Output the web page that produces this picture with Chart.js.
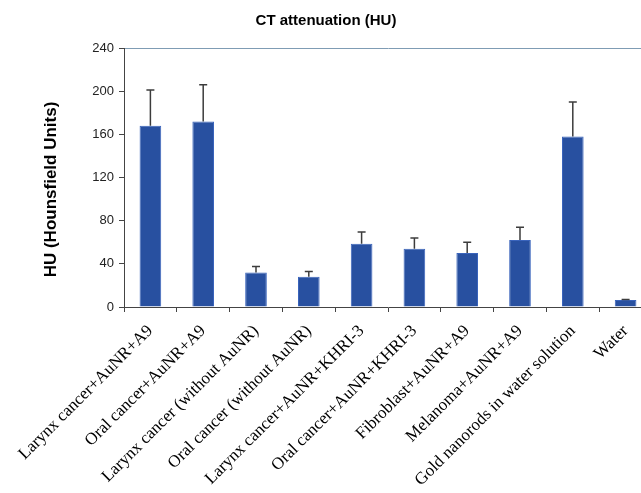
<!DOCTYPE html>
<html lang="en">
<head>
    <meta charset="UTF-8">
    <title>CT attenuation (HU)</title>
    <style>
        body {
            margin: 0;
            padding: 0;
            background: #fff;
            overflow: hidden;
        }
        #wrap {
            position: relative;
            width: 654px;
            height: 493px;
        }
    </style>
</head>
<body>
    <div id="wrap">
        <canvas id="ctChart"></canvas>
    </div>
    <script src="https://cdn.jsdelivr.net/npm/chart.js"></script>
    <script>
        const categories = [
            'Larynx cancer+AuNR+A9',
            'Oral cancer+AuNR+A9',
            'Larynx cancer (without AuNR)',
            'Oral cancer (without AuNR)',
            'Larynx cancer+AuNR+KHRI-3',
            'Oral cancer+AuNR+KHRI-3',
            'Fibroblast+AuNR+A9',
            'Melanoma+AuNR+A9',
            'Gold nanorods in water solution',
            'Water'
        ];
        const huValues = [168, 172, 32, 28, 58.5, 54, 50, 62, 158, 6.5];
        const huErrors = [33, 34, 5.5, 5, 11, 10, 10, 12, 32, 0.5];
        const yTicks = [0, 40, 80, 120, 160, 200, 240];
        const yTitle = 'HU (Hounsfield Units)';

        // draws the upper error bars from the scales
        const errorBars = {
            id: 'errorBars',
            afterDatasetsDraw(chart) {
                const ctx = chart.ctx;
                const meta = chart.getDatasetMeta(0);
                const y = chart.scales.y;
                ctx.save();
                ctx.strokeStyle = '#3c3c3c';
                ctx.lineWidth = 1.5;
                meta.data.forEach((bar, i) => {
                    const top = y.getPixelForValue(huValues[i]);
                    const end = y.getPixelForValue(huValues[i] + huErrors[i]);
                    ctx.beginPath();
                    ctx.moveTo(bar.x, top);
                    ctx.lineTo(bar.x, end);
                    ctx.moveTo(bar.x - 4, end);
                    ctx.lineTo(bar.x + 4, end);
                    ctx.stroke();
                });
                ctx.restore();
            }
        };

        // y axis title sits a bit below the middle of the axis in the original
        const yAxisTitle = {
            id: 'yAxisTitle',
            afterDraw(chart) {
                const ctx = chart.ctx;
                const area = chart.chartArea;
                ctx.save();
                ctx.translate(51, (area.top + area.bottom) / 2 + 12);
                ctx.rotate(-Math.PI / 2);
                ctx.font = 'bold 17px "Liberation Sans", Arial';
                ctx.fillStyle = '#000';
                ctx.textAlign = 'center';
                ctx.textBaseline = 'middle';
                ctx.fillText(yTitle, 0, 0);
                ctx.restore();
            }
        };

        new Chart(document.getElementById('ctChart'), {
            type: 'bar',
            data: {
                labels: categories,
                datasets: [{
                    data: huValues,
                    backgroundColor: '#2850a0',
                    borderColor: '#3a64bc',
                    borderWidth: 1,
                    barPercentage: 0.41,
                    categoryPercentage: 1
                }]
            },
            options: {
                responsive: true,
                maintainAspectRatio: false,
                animation: false,
                layout: { padding: { left: 0, right: 2, top: 0, bottom: 0 } },
                plugins: {
                    legend: { display: false },
                    tooltip: { enabled: false },
                    title: {
                        display: true,
                        text: 'CT attenuation (HU)',
                        color: '#000',
                        font: { family: 'Liberation Sans, Arial', size: 15, weight: 'bold' },
                        padding: { top: 12, bottom: 18 }
                    }
                },
                scales: {
                    x: {
                        afterFit: s => { s.height = 186; },
                        border: { color: '#444', width: 1 },
                        grid: {
                            offset: true,
                            drawOnChartArea: false,
                            color: '#444',
                            tickLength: 5
                        },
                        ticks: {
                            minRotation: 45,
                            maxRotation: 45,
                            autoSkip: false,
                            padding: 9,
                            color: '#000',
                            font: { family: 'Liberation Serif, Times New Roman', size: 17 }
                        }
                    },
                    y: {
                        min: 0,
                        max: 240,
                        afterFit: s => { s.width = 124; },
                        afterBuildTicks: s => { s.ticks = yTicks.map(v => ({ value: v })); },
                        border: { color: '#444', width: 1 },
                        grid: {
                            color: ctx => ctx.tick && ctx.tick.value === 240 ? '#7f9cb4' : 'transparent',
                            tickColor: '#444',
                            tickLength: 5
                        },
                        ticks: {
                            padding: 5,
                            color: '#222',
                            font: { family: 'Liberation Sans, Arial', size: 13 }
                        }
                    }
                }
            },
            plugins: [errorBars, yAxisTitle]
        });
    </script>
</body>
</html>
